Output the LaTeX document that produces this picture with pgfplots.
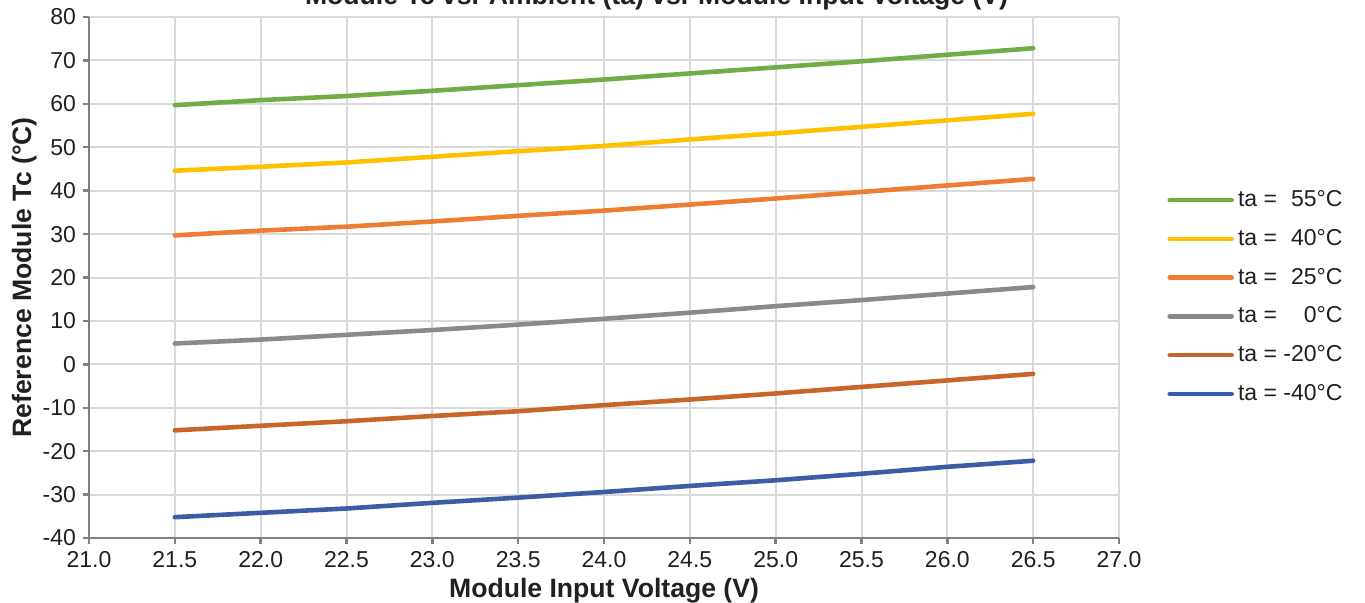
\documentclass[border=0pt]{standalone}
\usepackage{fontspec}
\setmainfont{Liberation Sans}
\usepackage{pgfplots}
\pgfplotsset{compat=1.18}
\definecolor{cgreen}{HTML}{70AD47}
\definecolor{cyellow}{HTML}{FFC000}
\definecolor{corange}{HTML}{ED7D31}
\definecolor{cgray}{HTML}{8A8A8A}
\definecolor{cbrown}{HTML}{C8652B}
\definecolor{cblue}{HTML}{3A5DA6}
\definecolor{axisgray}{HTML}{808080}
\definecolor{gridgray}{HTML}{D9D9D9}
\definecolor{txt}{HTML}{231F20}
\begin{document}
\begin{tikzpicture}
\begin{axis}[name=ax, scale only axis, width=515pt, height=260.5pt,
  xmin=21, xmax=27, ymin=-40, ymax=80,
  xtick={21,21.5,22,22.5,23,23.5,24,24.5,25,25.5,26,26.5,27},
  ytick={-40,-30,-20,-10,0,10,20,30,40,50,60,70,80},
  axis x line=bottom, axis y line=left,
  axis line style={draw=axisgray, line width=1.2pt, -},
  grid=major, grid style={draw=gridgray, line width=1pt},
  tick align=outside, major tick length=3pt,
  tick style={draw=axisgray, line width=1.2pt},
  /pgf/number format/assume math mode=true,
  tick label style={font=\fontsize{11.5pt}{13pt}\selectfont, text=txt},
  xticklabel style={/pgf/number format/.cd, fixed, fixed zerofill, precision=1},
  yticklabel style={/pgf/number format/.cd, fixed, precision=0},
  xlabel={Module Input Voltage (V)},
  ylabel={Reference Module Tc (°C)},
  label style={font=\bfseries\fontsize{13.3pt}{15pt}\selectfont, text=txt},
  xlabel style={at={(axis description cs:0.5,-0.1132)}, anchor=base},
  ylabel style={at={(axis description cs:-0.0563,0.5)}, anchor=base},
  title={Module Tc vs. Ambient (ta) vs. Module Input Voltage (V)},
  title style={font=\bfseries\fontsize{13.3pt}{15pt}\selectfont, text=txt, at={(axis description cs:0.551,1.0015)}, anchor=base},
  legend style={at={(axis description cs:1.0408,0.4626)}, anchor=west, draw=none, fill=none,
    font=\fontsize{11.5pt}{13pt}\selectfont, text=txt, row sep=5.85pt},
  legend cell align=left,
  legend image code/.code={\draw[#1, line width=2.3pt, line cap=round] (0pt,0pt) -- (31pt,0pt);},
  every axis plot/.append style={line width=2.3pt, line cap=round, line join=round, no marks},
]
\addplot[cgreen] coordinates {(21.5,59.7) (22.0,60.85) (22.5,61.8) (23.0,63.0) (23.5,64.3) (24.0,65.6) (24.5,67.0) (25.0,68.4) (25.5,69.8) (26.0,71.3) (26.5,72.8)};
\addlegendentry{ta = \phantom{-}55°C}
\addplot[cyellow] coordinates {(21.5,44.6) (22.0,45.5) (22.5,46.5) (23.0,47.8) (23.5,49.1) (24.0,50.3) (24.5,51.8) (25.0,53.2) (25.5,54.7) (26.0,56.2) (26.5,57.7)};
\addlegendentry{ta = \phantom{-}40°C}
\addplot[corange] coordinates {(21.5,29.7) (22.0,30.8) (22.5,31.7) (23.0,32.9) (23.5,34.2) (24.0,35.4) (24.5,36.8) (25.0,38.2) (25.5,39.7) (26.0,41.2) (26.5,42.7)};
\addlegendentry{ta = \phantom{-}25°C}
\addplot[cgray] coordinates {(21.5,4.8) (22.0,5.7) (22.5,6.8) (23.0,7.9) (23.5,9.15) (24.0,10.5) (24.5,11.9) (25.0,13.4) (25.5,14.8) (26.0,16.3) (26.5,17.8)};
\addlegendentry{ta = \phantom{-0}0°C}
\addplot[cbrown] coordinates {(21.5,-15.2) (22.0,-14.15) (22.5,-13.1) (23.0,-11.9) (23.5,-10.8) (24.0,-9.4) (24.5,-8.1) (25.0,-6.7) (25.5,-5.2) (26.0,-3.7) (26.5,-2.2)};
\addlegendentry{ta = -20°C}
\addplot[cblue] coordinates {(21.5,-35.2) (22.0,-34.2) (22.5,-33.2) (23.0,-31.9) (23.5,-30.7) (24.0,-29.4) (24.5,-28.0) (25.0,-26.7) (25.5,-25.2) (26.0,-23.6) (26.5,-22.2)};
\addlegendentry{ta = -40°C}
\end{axis}
\pgfresetboundingbox
\path[use as bounding box] ([xshift=-44.5pt,yshift=-32pt]ax.south west) rectangle ([xshift=123pt,yshift=8.5pt]ax.north east);
\end{tikzpicture}
\end{document}
